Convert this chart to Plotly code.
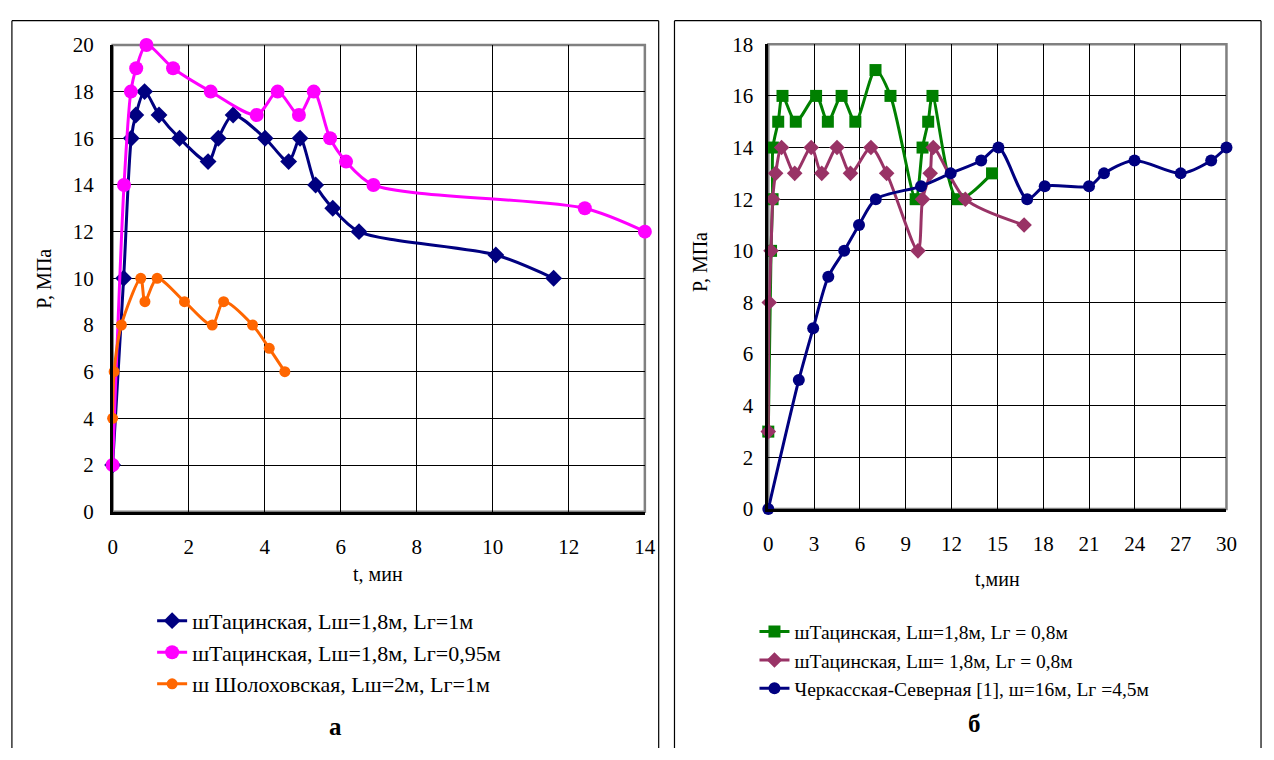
import plotly.graph_objects as go

W, H = 1274, 760
def px(x): return x / W
def py(y): return 1 - y / H

# ---------------- data: panel "а" ----------------
a_t1 = [0, 0.29, 0.49, 0.61, 0.84, 1.22, 1.76, 2.51, 2.78, 3.17, 4.01, 4.63, 4.93, 5.34, 5.79, 6.48, 10.08, 11.6]
a_p1 = [2, 10, 16, 17, 18, 17, 16, 15, 16, 17, 16, 15, 16, 14, 13, 12, 11, 10]
a_t2 = [0, 0.30, 0.48, 0.62, 0.89, 1.59, 2.58, 3.79, 4.34, 4.90, 5.29, 5.72, 6.14, 6.86, 12.42, 14.0]
a_p2 = [2, 14, 18, 19, 20, 19, 18, 17, 18, 17, 18, 16, 15, 14, 13, 12]
a_t3 = [0, 0.04, 0.23, 0.74, 0.85, 1.17, 1.89, 2.62, 2.92, 3.68, 4.12, 4.53]
a_p3 = [4, 6, 8, 10, 9, 10, 9, 8, 9, 8, 7, 6]
a_names = ["шТацинская, Lш=1,8м, Lг=1м",
           "шТацинская, Lш=1,8м, Lг=0,95м",
           "ш Шолоховская, Lш=2м, Lг=1м"]
a_xticks = [0, 2, 4, 6, 8, 10, 12, 14]
a_yticks = [0, 2, 4, 6, 8, 10, 12, 14, 16, 18, 20]

# ---------------- data: panel "б" ----------------
b_t1 = [0, 0.18, 0.28, 0.30, 0.65, 0.93, 1.8, 3.13, 3.9, 4.8, 5.7, 7.02, 8.0, 9.65, 10.1, 10.47, 10.75, 12.4, 14.65]
b_p1 = [3, 10, 12, 14, 15, 16, 15, 16, 15, 16, 15, 17, 16, 12, 14, 15, 16, 12, 13]
b_t2 = [0, 0.06, 0.18, 0.29, 0.48, 0.87, 1.73, 2.81, 3.5, 4.5, 5.38, 6.72, 7.75, 9.8, 10.1, 10.6, 10.8, 12.9, 16.75]
b_p2 = [3, 8, 10, 12, 13, 14, 13, 14, 13, 14, 13, 14, 13, 10, 12, 13, 14, 12, 11]
b_t3 = [0, 2.0, 2.94, 3.93, 4.97, 5.94, 7.04, 10.0, 11.94, 13.94, 15.07, 16.95, 18.1, 21.0, 21.98, 23.98, 27.0, 29.0, 30.0]
b_p3 = [0, 5, 7, 9, 10, 11, 12, 12.5, 13, 13.5, 14, 12, 12.5, 12.5, 13, 13.5, 13, 13.5, 14]
b_names = ["шТацинская, Lш=1,8м, Lг = 0,8м",
           "шТацинская, Lш= 1,8м, Lг = 0,8м",
           "Черкасская-Северная [1], ш=16м, Lг =4,5м"]
b_xticks = [0, 3, 6, 9, 12, 15, 18, 21, 24, 27, 30]
b_yticks = [0, 2, 4, 6, 8, 10, 12, 14, 16, 18]

FONT = "Liberation Serif, Times New Roman, serif"
fig = go.Figure()

def add(t, p, name, color, symbol, size, xa, ya, leg):
    fig.add_trace(go.Scatter(
        x=t, y=p, name=name, mode="lines+markers",
        line=dict(color=color, width=3, shape="spline", smoothing=0.8),
        marker=dict(color=color, symbol=symbol, size=size),
        xaxis=xa, yaxis=ya, legend=leg, cliponaxis=False, legendgroup=name))

add(a_t1, a_p1, a_names[0], "#000080", "diamond", 13, "x", "y", "legend")
add(a_t2, a_p2, a_names[1], "#FF00FF", "circle", 14, "x", "y", "legend")
add(a_t3, a_p3, a_names[2], "#FF6600", "circle", 11, "x", "y", "legend")
add(b_t1, b_p1, b_names[0], "#008000", "square", 12, "x2", "y2", "legend2")
add(b_t2, b_p2, b_names[1], "#993366", "diamond", 12, "x2", "y2", "legend2")
add(b_t3, b_p3, b_names[2], "#000080", "circle", 12, "x2", "y2", "legend2")

tickfont = dict(family=FONT, size=21, color="black")
common = dict(showgrid=True, gridcolor="black", gridwidth=1.3, zeroline=False,
              showline=True, linecolor="black", linewidth=2.5, ticks="",
              tickfont=tickfont)

L = dict(x0=109, x1=648, y0=34, y1=516)
R = dict(x0=773, x1=1237, y0=33.3, y1=513.3)

fig.update_layout(
    width=W, height=H, margin=dict(l=0, r=0, t=0, b=0),
    paper_bgcolor="white", plot_bgcolor="white",
    font=dict(family=FONT, color="black"),
    xaxis=dict(domain=[px(L["x0"]), px(L["x1"])], range=[0, 14], tickvals=a_xticks,
               anchor="y", ticklabelstandoff=14, **common),
    yaxis=dict(domain=[py(L["y1"]), py(L["y0"])], range=[0, 20], tickvals=a_yticks,
               anchor="x", ticklabelstandoff=12, **common),
    xaxis2=dict(domain=[px(R["x0"]), px(R["x1"])], range=[0, 30], tickvals=b_xticks,
                anchor="y2", ticklabelstandoff=14, **common),
    yaxis2=dict(domain=[py(R["y1"]), py(R["y0"])], range=[0, 18], tickvals=b_yticks,
                anchor="x2", ticklabelstandoff=8, **common),
    legend=dict(x=px(149), y=py(607), xanchor="left", yanchor="top",
                font=dict(family=FONT, size=22, color="black"),
                bgcolor="rgba(0,0,0,0)", traceorder="normal", tracegroupgap=12,
                itemwidth=30),
    legend2=dict(x=px(759), y=py(620), xanchor="left", yanchor="top",
                 font=dict(family=FONT, size=19.5, color="black"),
                 bgcolor="rgba(0,0,0,0)", traceorder="normal", tracegroupgap=0,
                 itemwidth=30),
    showlegend=True,
)

shapes = []
# panel frames
for x0, x1 in [(7, 662), (678, 1272)]:
    for xa, xb, ya, yb in [(x0, x0, 9, 760), (x1, x1, 9, 760), (x0, x1, 9, 9)]:
        shapes.append(dict(type="line", xref="paper", yref="paper",
                           x0=px(xa), x1=px(xb), y0=py(ya), y1=py(yb),
                           line=dict(color="black", width=1.2)))
# plot-area gray borders
for xr, yr in [("x", "y"), ("x2", "y2")]:
    shapes.append(dict(type="rect", xref=xr + " domain", yref=yr + " domain", x0=0, x1=1, y0=0, y1=1,
                       line=dict(color="#808080", width=2.5), layer="below"))
fig.update_layout(shapes=shapes)

ann = []
tfont = dict(family=FONT, size=20, color="black")
def note(x, y, text, font, angle=0):
    ann.append(dict(x=px(x), y=py(y), xref="paper", yref="paper", text=text, textangle=angle,
                    xanchor="center", yanchor="middle", showarrow=False, font=font))
note(40, 275, "P, МПа", tfont, -90)
note(704, 258, "P, МПа", tfont, -90)
note(378, 580, "t, мин", tfont)
note(1005, 585, "t,мин", tfont)
note(335, 738, "<b>а</b>", dict(family=FONT, size=25, color="black"))
note(982, 735, "<b>б</b>", dict(family=FONT, size=25, color="black"))
fig.update_layout(annotations=ann)

fig.write_html("out.html", config={"displayModeBar": False},
               post_script="document.body.style.margin='0';document.body.style.overflow='hidden';")
